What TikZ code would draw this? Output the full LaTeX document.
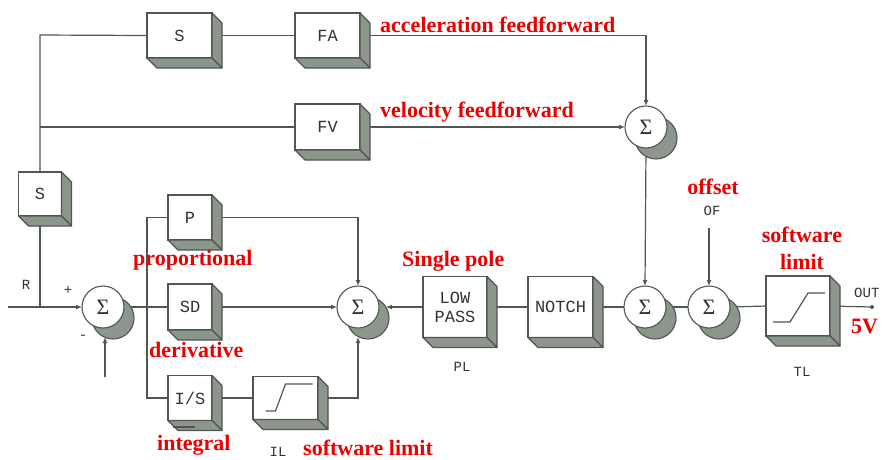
\documentclass[tikz,border=0pt]{standalone}
\usepackage{fontspec}
\setmainfont{Liberation Serif}
\newfontfamily\monof{Liberation Mono}
\usetikzlibrary{arrows.meta,backgrounds,calc}
\definecolor{linec}{RGB}{78,88,78}
\definecolor{shadc}{RGB}{140,150,140}
\definecolor{txtc}{RGB}{50,50,50}
\definecolor{redc}{RGB}{235,0,0}
\tikzset{
 blk/.style={draw=linec, fill=white, line width=1.2pt, inner sep=0pt, outer sep=0pt,
   font=\monof\fontsize{17}{19}\selectfont, text=txtc, align=center},
 sumn/.style={circle, draw=linec, fill=white, line width=1.1pt, minimum size=42pt,
   inner sep=0pt, outer sep=0pt, font=\fontsize{22}{22}\selectfont, text=txtc},
 sumsh/.style={fill=shadc, draw=linec, line width=1.1pt},
 face/.style={fill=shadc, draw=linec, line width=1.1pt, line join=round},
 wire/.style={draw=linec, line width=1.2pt},
 arr/.style={wire, -{Latex[length=6pt,width=5pt]}},
 lbl/.style={font=\monof\fontsize{14}{16}\selectfont, text=txtc, inner sep=0pt},
 rlab/.style={font=\bfseries\fontsize{22}{25}\selectfont, text=redc, inner sep=0pt, align=center},
}
\newcommand\boxdepth[1]{%
 \filldraw[face] (#1.north east) -- ++(10,10) -- ($(#1.south east)+(10,10)$) -- (#1.south east) -- cycle;
 \filldraw[face] (#1.south west) -- (#1.south east) -- ($(#1.south east)+(10,10)$) -- ($(#1.south west)+(10,10)$) -- cycle;}
\newcommand\sumat[3]{%
 \filldraw[sumsh] ($(#2,#3)+(10,11)$) circle (21);
 \node[sumn] (#1) at (#2,#3) {Σ};}
\begin{document}
\begin{tikzpicture}[x=1pt,y=-1pt]
\useasboundingbox (0,0) rectangle (882,459);
% blocks
\node[blk, minimum width=65pt, minimum height=45pt] (S1) at (179.5,35.5) {S};
\node[blk, minimum width=65pt, minimum height=45pt] (FA) at (327.5,35.5) {FA};
\node[blk, minimum width=65pt, minimum height=46pt] (FV) at (327.5,127) {FV};
\node[blk, minimum width=43pt, minimum height=44pt] (S2) at (40,194) {S};
\node[blk, minimum width=44pt, minimum height=45pt] (P) at (190,217.5) {P};
\node[blk, minimum width=44pt, minimum height=46pt] (SD) at (190,307) {SD};
\node[blk, minimum width=44pt, minimum height=45pt] (IS) at (190,398) {I/S};
\node[blk, minimum width=65pt, minimum height=43pt] (IL) at (285.5,398) {};
\node[blk, minimum width=64pt, minimum height=61pt] (LP) at (455,307) {LOW\\PASS};
\node[blk, minimum width=65pt, minimum height=61pt] (NT) at (560.5,307) {NOTCH};
\node[blk, minimum width=64pt, minimum height=60pt] (TL) at (798,306) {};
\foreach \n in {S1,FA,FV,S2,P,SD,IS,IL,LP,NT,TL}{\boxdepth{\n}}
% summing junctions
\sumat{Sa}{103}{307}
\sumat{Sb}{358}{307}
\sumat{Sc}{645}{307}
\sumat{Sd}{709}{307}
\sumat{Se}{646}{127}
% saturation curves and marks
\draw[wire] ($(IL.center)+(-20,13)$) -- ++(10,0) -- ++(10,-27) -- ++(27,0);
\draw[wire] ($(TL.center)+(-25,16)$) -- ++(17,0) -- ++(18,-29) -- ++(17,0);
\draw[linec, line width=2pt] ($(IS.south west)+(5,6)$) -- ++(22,0);
% coordinates
\coordinate (jt) at (40,35);
\coordinate (jv) at (40,127);
\coordinate (in) at (8,307);
\coordinate (jin) at (40,307);
\coordinate (br) at (147,307);
\coordinate (fb) at (105,377);
\coordinate (fbt) at (105,337);
\coordinate (sbr) at (386,307);
\coordinate (sbb) at (358,337);
\coordinate (of) at (709,228);
\coordinate (out) at (872,307);
% wires
\begin{scope}[on background layer]
\draw[wire] (S2.north) -- (jt) -- (S1.west);
\draw[wire] (jv) -- (FV.west);
\draw[wire] (S1.east) -- (FA.west);
\draw[arr] (FA.east) -| (Se.north);
\draw[arr] (FV.east) -- (Se.west);
\draw[arr] (Se.south) -- (Sc.north);
\draw[arr] (in) -- (Sa.west);
\draw[wire] (S2.south) -- (jin);
\draw[arr] (fb) -- (fbt);
\draw[wire] (Sa.east) -- (SD.west);
\draw[wire] (P.west) -| (br) |- (IS.west);
\draw[arr] (P.east) -| (Sb.north);
\draw[arr] (SD.east) -- (Sb.west);
\draw[wire] (IS.east) -- (IL.west);
\draw[arr] (IL.east) -| (sbb);
\draw[arr] (LP.west) -- (sbr);
\draw[wire] (LP.east) -- (NT.west);
\draw[wire] (NT.east) -- (Sc.west);
\draw[wire] (Sc.east) -- (Sd.west);
\draw[wire] (Sd.east) -- (TL.west);
\draw[arr] (of) -- (Sd.north);
\draw[wire] (TL.east) -- (out);
\end{scope}
\fill[linec] (out) circle (2);
% gray labels
\node[lbl] (lR) at (26,285) {R};
\node[lbl] (lplus) at (68,290) {+};
\node[lbl] (lminus) at (83,337) {-};
\node[lbl, anchor=west] (lout) at (854,293) {OUT};
\node[lbl] (lPL) at (462,367) {PL};
\node[lbl] (lTL) at (802,372) {TL};
\node[lbl] (lIL) at (278,452) {IL};
\node[lbl] (lOF) at (712,211) {OF};
% red labels
\node[rlab, anchor=base west] (tacc) at (380,32) {acceleration feedforward};
\node[rlab, anchor=base west] (tvel) at (380,117) {velocity feedforward};
\node[rlab, anchor=base] (toff) at (713,194) {offset};
\node[rlab, anchor=base] (tsw1) at (802,242) {software};
\node[rlab, anchor=base] (tsw2) at (802,269) {limit};
\node[rlab, anchor=base west] (tsp) at (402,266) {Single pole};
\node[rlab, anchor=base west] (tprop) at (133,265) {proportional};
\node[rlab, anchor=base west] (tder) at (149,357) {derivative};
\node[rlab, anchor=base west] (tint) at (157,450) {integral};
\node[rlab, anchor=base west] (tswl) at (303,455) {software limit};
\node[rlab, anchor=base west] (t5v) at (851,333) {5V};
\end{tikzpicture}
\end{document}
